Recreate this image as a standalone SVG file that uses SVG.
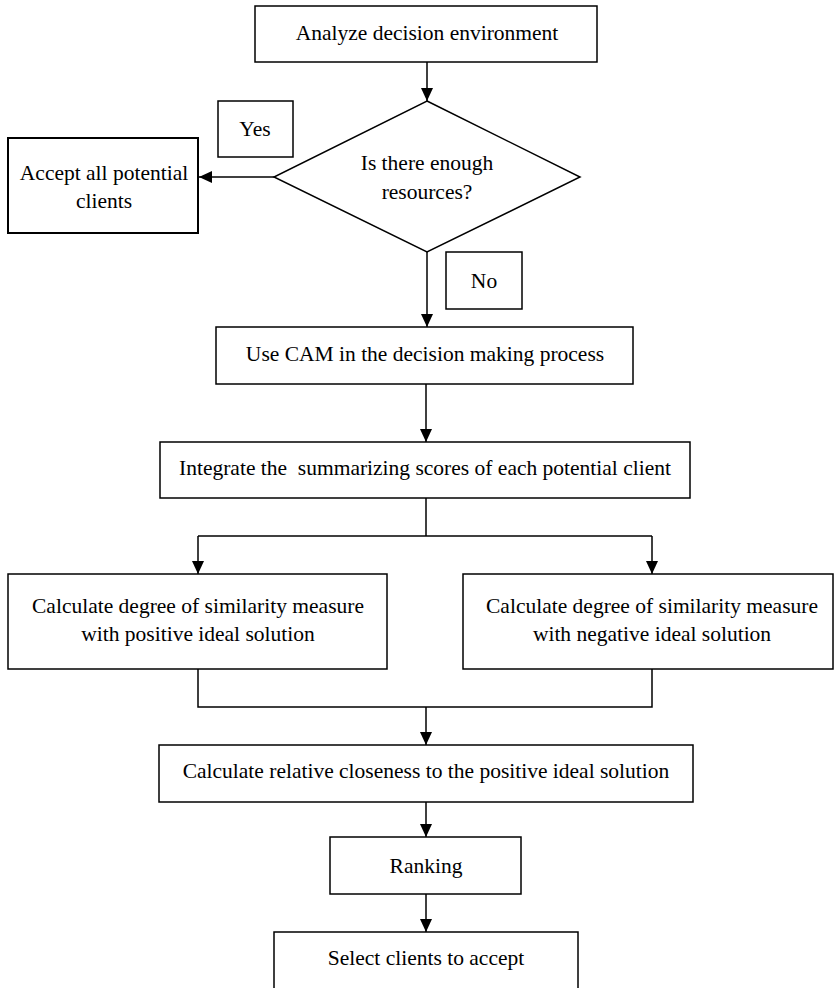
<svg xmlns="http://www.w3.org/2000/svg" width="834" height="988" viewBox="0 0 834 988">
<style>
.box{fill:#fff;stroke:#000;stroke-width:1.5}
.lbl{fill:#fff;stroke:#000;stroke-width:1.5}
.t{font-family:"Liberation Serif","Times New Roman",serif;font-size:21.5px;fill:#000;text-anchor:middle}
.c{fill:none;stroke:#000;stroke-width:1.5}
</style>
<defs>
<marker id="ah" markerUnits="userSpaceOnUse" markerWidth="14" markerHeight="12" refX="13" refY="6" orient="auto">
<path d="M0,0 L13,6 L0,12 Z" fill="#000"/>
</marker>
</defs>
<rect width="834" height="988" fill="#fff"/>
<g id="connectors">
<line class="c" x1="427" y1="62" x2="427" y2="101" marker-end="url(#ah)"/>
<line class="c" x1="274" y1="177" x2="199" y2="177" marker-end="url(#ah)"/>
<line class="c" x1="427" y1="252" x2="427" y2="327" marker-end="url(#ah)"/>
<line class="c" x1="426" y1="384" x2="426" y2="442" marker-end="url(#ah)"/>
<polyline class="c" points="426,498 426,536"/>
<polyline class="c" points="198,536 652,536"/>
<line class="c" x1="198" y1="536" x2="198" y2="574" marker-end="url(#ah)"/>
<line class="c" x1="652" y1="536" x2="652" y2="574" marker-end="url(#ah)"/>
<polyline class="c" points="198,669 198,707 652,707 652,669"/>
<line class="c" x1="426" y1="707" x2="426" y2="745" marker-end="url(#ah)"/>
<line class="c" x1="426" y1="802" x2="426" y2="837" marker-end="url(#ah)"/>
<line class="c" x1="426" y1="894" x2="426" y2="932" marker-end="url(#ah)"/>
</g>
<g id="n-analyze">
<rect class="box" x="255" y="6" width="342" height="56"/>
<text class="t" x="427" y="40">Analyze decision environment</text>
</g>
<g id="n-decision">
<polygon class="box" points="427,101 580,177 427,252 274,177"/>
<text class="t" x="427" y="170">Is there enough</text>
<text class="t" x="427" y="199">resources?</text>
</g>
<g id="n-yes">
<rect class="lbl" x="218" y="101" width="75" height="56"/>
<text class="t" x="255" y="136">Yes</text>
</g>
<g id="n-accept">
<rect class="box" x="8" y="138" width="190" height="95" style="stroke-width:2"/>
<text class="t" x="104" y="180">Accept all potential</text>
<text class="t" x="104" y="208">clients</text>
</g>
<g id="n-no">
<rect class="lbl" x="446" y="252" width="76" height="57"/>
<text class="t" x="484" y="288">No</text>
</g>
<g id="n-cam">
<rect class="box" x="216" y="327" width="417" height="57"/>
<text class="t" x="425" y="361">Use CAM in the decision making process</text>
</g>
<g id="n-integrate">
<rect class="box" x="160" y="442" width="530" height="56"/>
<text class="t" x="425" y="475" xml:space="preserve">Integrate the  summarizing scores of each potential client</text>
</g>
<g id="n-positive">
<rect class="box" x="8" y="574" width="379" height="95"/>
<text class="t" x="198" y="613">Calculate degree of similarity measure</text>
<text class="t" x="198" y="641">with positive ideal solution</text>
</g>
<g id="n-negative">
<rect class="box" x="463" y="574" width="370" height="95"/>
<text class="t" x="652" y="613">Calculate degree of similarity measure</text>
<text class="t" x="652" y="641">with negative ideal solution</text>
</g>
<g id="n-closeness">
<rect class="box" x="159" y="745" width="534" height="57"/>
<text class="t" x="426" y="778">Calculate relative closeness to the positive ideal solution</text>
</g>
<g id="n-ranking">
<rect class="box" x="330" y="837" width="191" height="57"/>
<text class="t" x="426" y="873">Ranking</text>
</g>
<g id="n-select">
<rect class="box" x="274" y="932" width="304" height="60"/>
<text class="t" x="426" y="965">Select clients to accept</text>
</g>
</svg>
